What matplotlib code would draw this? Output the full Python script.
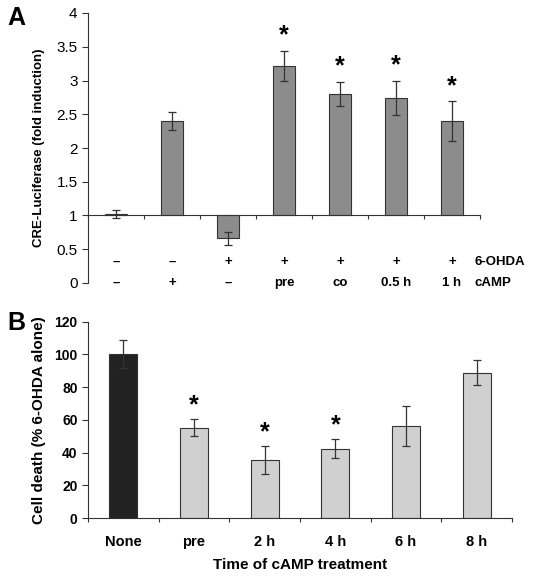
import numpy as np
import matplotlib.pyplot as plt

plt.rcParams['font.family'] = ['Liberation Sans', 'DejaVu Sans']

# panel A data
ohda_row = ["–", "–", "+", "+", "+", "+", "+"]
camp_row = ["–", "+", "–", "pre", "co", "0.5 h", "1 h"]
cre_values = [1.02, 2.40, 0.66, 3.22, 2.80, 2.745, 2.40]
cre_errors = [0.06, 0.13, 0.10, 0.22, 0.18, 0.25, 0.29]
cre_signif = [False, False, False, True, True, True, True]

# panel B data
time_labels = ["None", "pre", "2 h", "4 h", "6 h", "8 h"]
death_values = [100, 55.2, 35.2, 42.4, 56.4, 88.8]
death_errors = [8.5, 5.3, 8.6, 5.8, 12.2, 7.5]
death_signif = [False, True, True, True, False, False]

fig = plt.figure(figsize=(5.36, 5.8), dpi=100)

# ---- panel A ----
ax1 = fig.add_axes([88/536, 1 - 283/580, 392/536, 270/580])
x1 = np.arange(len(cre_values))
base = 1.0
ax1.bar(x1, np.array(cre_values) - base, bottom=base, width=0.41,
        color="#8c8c8c", edgecolor="#333333", linewidth=0.8)
ax1.errorbar(x1, cre_values, yerr=cre_errors, fmt="none", ecolor="#333333",
             elinewidth=0.9, capsize=3, capthick=0.9)
for xi, v, e, s in zip(x1, cre_values, cre_errors, cre_signif):
    if s:
        ax1.text(xi, v + e + 0.05, "*", ha="center", va="bottom",
                 fontsize=18, fontweight="bold")
ax1.set_xlim(-0.5, len(cre_values) - 0.5)
ax1.set_ylim(0, 4)
ax1.set_yticks([0, 0.5, 1, 1.5, 2, 2.5, 3, 3.5, 4])
ax1.set_yticklabels(["0", "0.5", "1", "1.5", "2", "2.5", "3", "3.5", "4"])
ax1.tick_params(axis="y", labelsize=11, length=4, width=0.8, colors="#333333",
                labelcolor="black")
ax1.spines["top"].set_visible(False)
ax1.spines["right"].set_visible(False)
ax1.spines["bottom"].set_position(("data", base))
for sp in ["left", "bottom"]:
    ax1.spines[sp].set_linewidth(0.8)
    ax1.spines[sp].set_color("#333333")
ax1.set_xticks(np.arange(-0.5, len(cre_values)), minor=False)
ax1.set_xticklabels([])
ax1.tick_params(axis="x", length=3, width=0.8, colors="#333333", direction="out")
ax1.set_ylabel("CRE-Luciferase (fold induction)", fontsize=9.5, fontweight="bold",
               labelpad=8)
for xi, a, c in zip(x1, ohda_row, camp_row):
    ax1.text(xi, 0.31, a, ha="center", va="center", fontsize=9.5, fontweight="bold")
    ax1.text(xi, 0.0, c, ha="center", va="center", fontsize=9.5, fontweight="bold")
ax1.text(6.41, 0.31, "6-OHDA", ha="left", va="center", fontsize=9.5, fontweight="bold")
ax1.text(6.41, 0.0, "cAMP", ha="left", va="center", fontsize=9.5, fontweight="bold")
fig.text(7/536, 1 - 18/580, "A", fontsize=18, fontweight="bold", va="center")

# ---- panel B ----
ax2 = fig.add_axes([88/536, 1 - 518/580, 424/536, 196.4/580])
x2 = np.arange(len(death_values))
colors_b = ["#222222"] + ["#d0d0d0"] * (len(death_values) - 1)
ax2.bar(x2, death_values, width=0.4, color=colors_b, edgecolor="#333333",
        linewidth=0.8)
ax2.errorbar(x2, death_values, yerr=death_errors, fmt="none", ecolor="#333333",
             elinewidth=0.9, capsize=3, capthick=0.9)
for xi, v, e, s in zip(x2, death_values, death_errors, death_signif):
    if s:
        ax2.text(xi, v + e + 1, "*", ha="center", va="bottom",
                 fontsize=18, fontweight="bold")
ax2.set_xlim(-0.5, len(death_values) - 0.5)
ax2.set_ylim(0, 120)
ax2.set_yticks(np.arange(0, 121, 20))
for lab in ax2.get_yticklabels():
    lab.set_fontweight("bold")
ax2.tick_params(axis="y", labelsize=10, length=4, width=0.8, colors="#333333",
                labelcolor="black")
ax2.set_xticks(np.arange(-0.5, len(death_values)))
ax2.set_xticklabels([])
ax2.set_xticks(x2, minor=True)
ax2.set_xticklabels(time_labels, minor=True, fontsize=10.5, fontweight="bold")
ax2.tick_params(axis="x", which="major", length=3, width=0.8, colors="#333333")
ax2.tick_params(axis="x", which="minor", length=0, pad=12)
ax2.spines["top"].set_visible(False)
ax2.spines["right"].set_visible(False)
for sp in ["left", "bottom"]:
    ax2.spines[sp].set_linewidth(0.8)
    ax2.spines[sp].set_color("#333333")
ax2.set_ylabel("Cell death (% 6-OHDA alone)", fontsize=11, fontweight="bold",
               labelpad=6)
ax2.set_xlabel("Time of cAMP treatment", fontsize=11, fontweight="bold", labelpad=7)
fig.text(7/536, 1 - 323/580, "B", fontsize=18, fontweight="bold", va="center")

fig.savefig("out.png", dpi=100)
